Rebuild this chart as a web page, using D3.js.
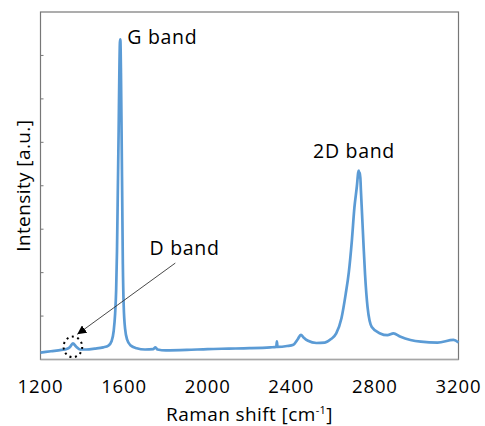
<!DOCTYPE html>
<html>
<head>
<meta charset="utf-8">
<script src="https://cdn.jsdelivr.net/npm/d3@7"></script>
<style>
  body { margin: 0; background: #fff; }
  svg text { font-family: "Open Sans", sans-serif; fill: #000; }
</style>
</head>
<body>
<svg width="485" height="426"></svg>
<script>
// Raman spectrum (intensity in arbitrary units)
let shift = [1200, 1250, 1300, 1325, 1340, 1355, 1370, 1390, 1420, 1460, 1500, 1525, 1540, 1550, 1557,
  1562, 1566, 1570, 1574, 1577, 1580, 1582, 1585, 1588, 1591, 1594, 1598, 1605, 1615, 1630, 1660,
  1700, 1740, 1750, 1760, 1800, 1900, 2000, 2100, 2200, 2300, 2328, 2331, 2334, 2380, 2410, 2430,
  2446, 2460, 2480, 2520, 2560, 2590, 2615, 2640, 2660, 2675, 2690, 2702, 2714, 2720, 2723, 2726,
  2729, 2733, 2740, 2746, 2753, 2765, 2785, 2825, 2860, 2889, 2920, 2970, 3020, 3100, 3176, 3200];
let intensity = [0.16, 0.19, 0.22, 0.24, 0.28, 0.37, 0.3, 0.23, 0.23, 0.25, 0.28, 0.32, 0.42, 0.65, 1.05,
  1.6, 2.5, 3.9, 5.3, 6.5, 7.3, 7.37, 6.6, 5.2, 3.7, 2.2, 1.25, 0.7, 0.45, 0.33, 0.26,
  0.23, 0.24, 0.28, 0.23, 0.21, 0.22, 0.24, 0.25, 0.26, 0.28, 0.29, 0.42, 0.29, 0.31, 0.34, 0.46,
  0.57, 0.5, 0.43, 0.38, 0.39, 0.47, 0.6, 0.95, 1.5, 2.0, 2.75, 3.5, 4.0, 4.3, 4.35, 4.2,
  4.3, 3.9, 3.2, 2.6, 1.95, 1.2, 0.75, 0.6, 0.56, 0.6, 0.53, 0.45, 0.41, 0.39, 0.45, 0.39];

let xTicks = [1200, 1600, 2000, 2400, 2800, 3200];
let yTicks = [1, 2, 3, 4, 5, 6, 7];

// band labels: [text, shift, intensity, anchor]
let bandLabels = [
  ["G band", 1615, 7.27, "start"],
  ["2D band", 2700, 4.65, "middle"],
  ["D band", 1722, 2.4, "start"]
];

let svg = d3.select("svg");

let x = d3.scaleLinear().domain([1200, 3200]).range([40.5, 458.5]);
let y = d3.scaleLinear().domain([0, 8]).range([359.5, 12]);

// plot frame
svg.append("rect")
  .attr("x", x(1200)).attr("y", y(8))
  .attr("width", x(3200) - x(1200)).attr("height", y(0) - y(8))
  .attr("fill", "none").attr("stroke", "#777").attr("stroke-width", 1.2);

// y ticks (inside, no labels)
svg.append("g").selectAll("line")
  .data(yTicks).enter().append("line")
  .attr("x1", x(1200)).attr("x2", x(1200) + 3)
  .attr("y1", d => y(d)).attr("y2", d => y(d))
  .attr("stroke", "#777");

// bottom axis line
svg.append("line")
  .attr("x1", x(1200)).attr("x2", x(3200))
  .attr("y1", y(0)).attr("y2", y(0))
  .attr("stroke", "#a6a6a6").attr("stroke-width", 1.5);

// x tick labels
svg.append("g").selectAll("text")
  .data(xTicks).enter().append("text")
  .attr("x", d => x(d)).attr("y", 393)
  .attr("text-anchor", "middle")
  .style("font-size", "18.5px").style("letter-spacing", "0.9px")
  .text(d => d);

// axis titles
let xt = svg.append("text")
  .attr("x", (x(1200) + x(3200)) / 2).attr("y", 421)
  .attr("text-anchor", "middle")
  .style("font-size", "19px").style("letter-spacing", "0.4px");
xt.append("tspan").text("Raman shift [cm");
xt.append("tspan").attr("dy", -7).style("font-size", "11px").text("-1");
xt.append("tspan").attr("dy", 7).text("]");

svg.append("text")
  .attr("transform", "translate(29.5," + (y(0) + y(8)) / 2 + ") rotate(-90)")
  .attr("text-anchor", "middle")
  .style("font-size", "19px").style("letter-spacing", "0.4px")
  .text("Intensity [a.u.]");

// spectrum
let line = d3.line()
  .x(d => x(d[0]))
  .y(d => y(d[1]))
  .curve(d3.curveMonotoneX);

svg.append("path")
  .datum(d3.zip(shift, intensity))
  .attr("d", line)
  .attr("fill", "none")
  .attr("stroke", "#5b9bd5")
  .attr("stroke-width", 2.7)
  .attr("stroke-linejoin", "round");

// band labels
svg.append("g").selectAll("text")
  .data(bandLabels).enter().append("text")
  .attr("x", d => x(d[1])).attr("y", d => y(d[2]))
  .attr("text-anchor", d => d[3])
  .style("font-size", "19.5px").style("letter-spacing", "0.7px")
  .text(d => d[0]);

// D band marker: dotted circle and arrow
svg.append("defs").append("marker")
  .attr("id", "head")
  .attr("viewBox", "0 0 10 10")
  .attr("refX", 10).attr("refY", 5)
  .attr("markerWidth", 9).attr("markerHeight", 9)
  .attr("markerUnits", "userSpaceOnUse")
  .attr("orient", "auto")
  .append("path").attr("d", "M0,0L10,5L0,10Z").attr("fill", "#000");

svg.append("ellipse")
  .attr("cx", x(1355)).attr("cy", y(0.29))
  .attr("rx", 9.3).attr("ry", 10.3)
  .attr("fill", "none").attr("stroke", "#000")
  .attr("stroke-width", 2).attr("stroke-dasharray", "2,3.6");

svg.append("line")
  .attr("x1", x(1845)).attr("y1", y(2.22))
  .attr("x2", x(1376)).attr("y2", y(0.58))
  .attr("stroke", "#333").attr("stroke-width", 0.9)
  .attr("marker-end", "url(#head)");
</script>
</body>
</html>
